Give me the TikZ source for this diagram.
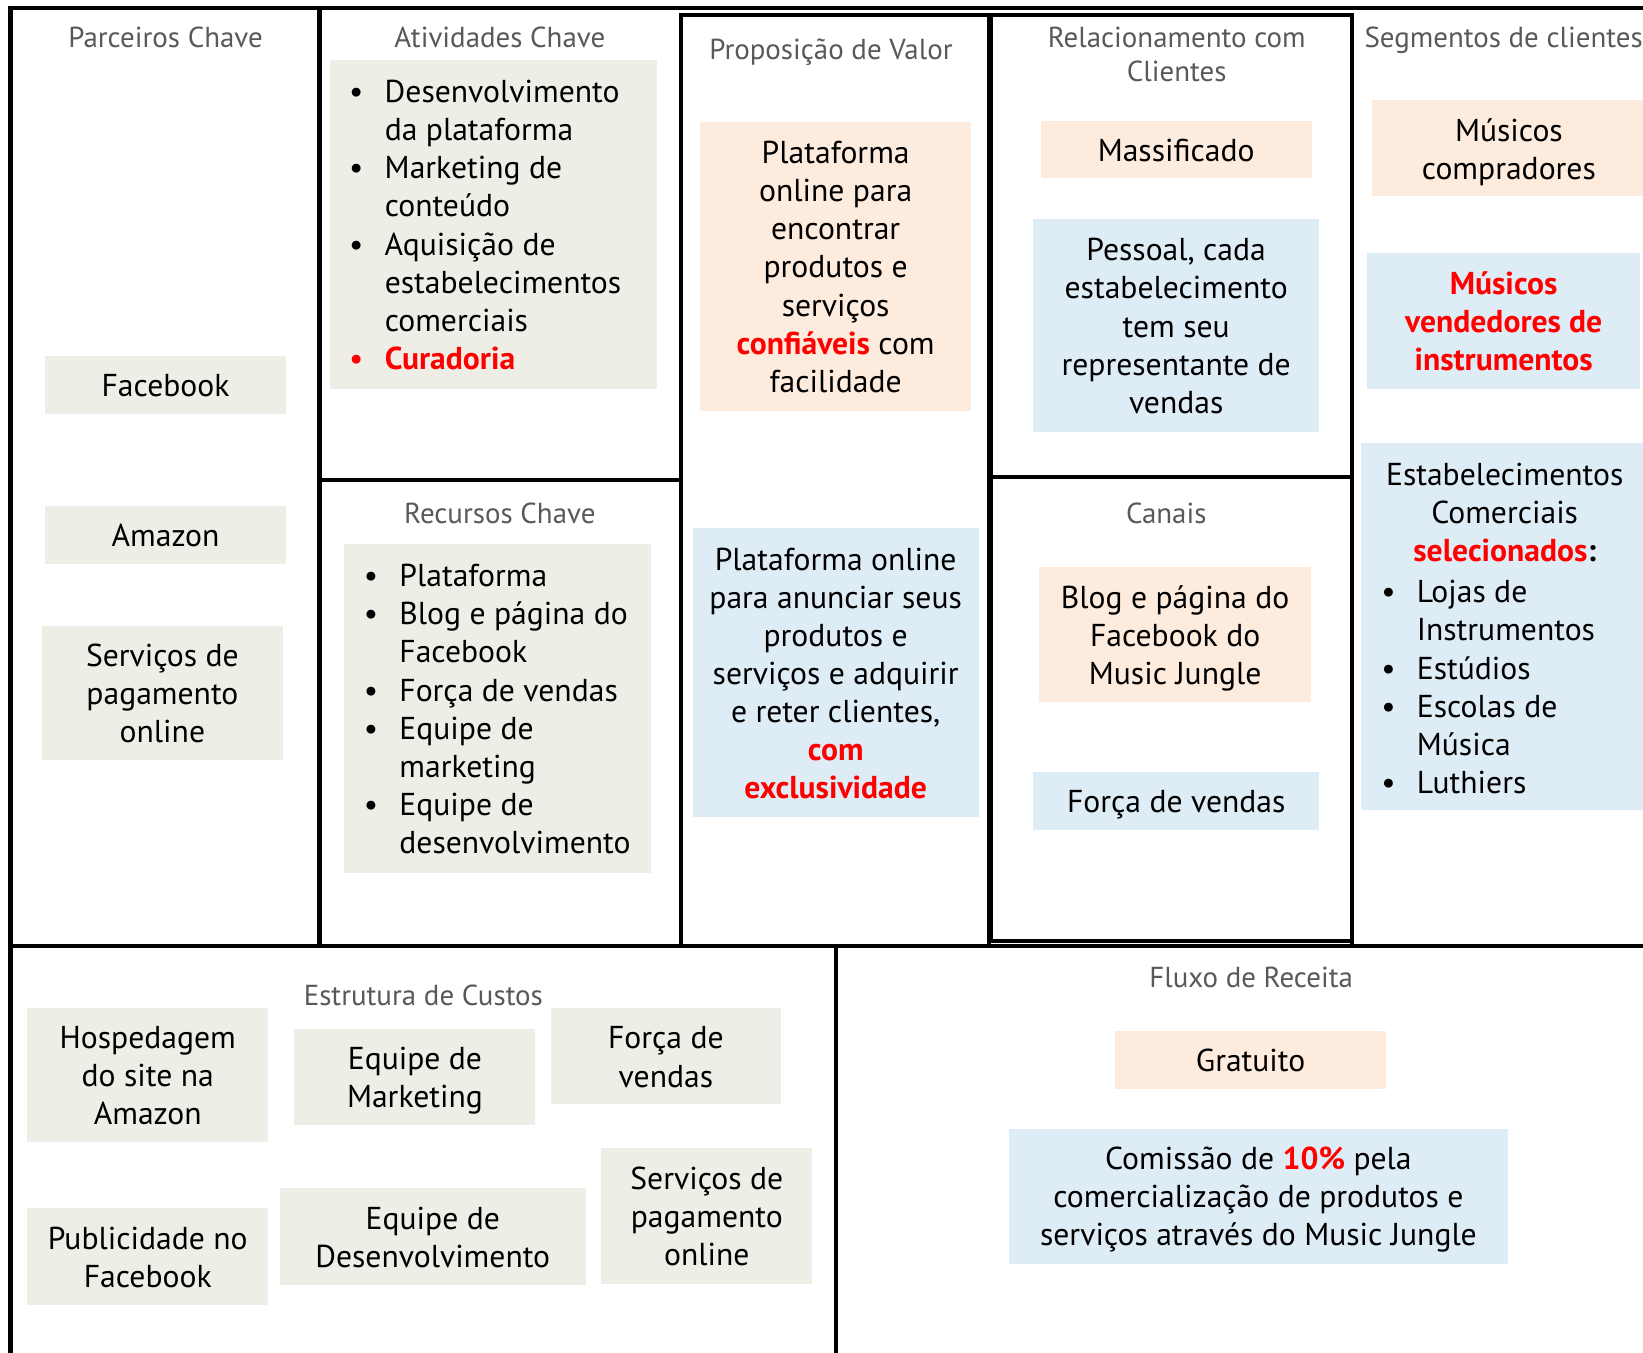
\documentclass[tikz,border=0pt]{standalone}
\usepackage{fontspec}
\setmainfont{PT Sans}
\definecolor{beige}{RGB}{239,238,230}
\definecolor{peach}{RGB}{253,235,222}
\definecolor{lblue}{RGB}{222,236,245}
\definecolor{titlegray}{RGB}{89,89,89}
\definecolor{rd}{RGB}{255,0,0}
\newcommand{\bodyfont}{\fontsize{30.2}{36.4}\selectfont\lineskiplimit=-100pt}
\newcommand{\titlefont}{\fontsize{27.6}{33}\selectfont\lineskiplimit=-100pt}
\newcommand{\st}{\rule[-7pt]{0pt}{36.4pt}}
\newcommand{\tst}{\rule[-6.5pt]{0pt}{33pt}}
\newcommand{\itm}{\makebox[34pt][l]{•}}
\newcommand{\ind}{\hspace*{34pt}}
\newcommand{\rb}[1]{\textbf{\color{rd}#1}}
\newcommand{\mkbox}[6]{\node[bx, fill=#6, minimum width={(#4)-(#2)}, minimum height={(#5)-(#3)}] (#1) at ({((#2)+(#4))/2},{((#3)+(#5))/2}) {};}
\begin{document}
\begin{tikzpicture}[x=1pt,y=-1pt,
  frame/.style={line width=4pt, draw=black},
  bx/.style={draw=none, inner sep=0pt, outer sep=0pt},
  txt/.style={inner sep=0pt, align=center, font=\bodyfont},
  lst/.style={inner sep=0pt, align=left, font=\bodyfont, anchor=west},
  ttl/.style={inner sep=0pt, align=center, text=titlegray, font=\titlefont}]
\useasboundingbox (0,0) rectangle (1568,1291);
\fill[white] (0,0) rectangle (1568,1291);

% ---------- frame ----------
\draw[frame] (10,1293) -- (10,8) -- (1570,8);
\draw[frame] (305,8) -- (305,903);
\draw[frame] (305,458) -- (650,458);
\draw[frame] (650,14) rectangle (944,903);
\draw[frame] (946,14) rectangle (1290,455);
\draw[frame] (946,455) rectangle (1290,898);
\draw[frame] (1290,898) -- (1290,903);
\draw[frame] (10,903) -- (1570,903);
\draw[frame] (798,903) -- (798,1293);

% ---------- Parceiros Chave ----------
\node[ttl] (tparc) at (158,35) {\tst Parceiros Chave};
\mkbox{bfb}{43}{340}{273}{395}{beige}
\node[txt] (tfb) at (bfb) {\st Facebook};
\mkbox{bamz}{43}{483}{273}{538}{beige}
\node[txt] (tamz) at (bamz) {\st Amazon};
\mkbox{bpag}{40}{597}{270}{725}{beige}
\node[txt] (tpag) at (bpag) {\st Serviços de\\\st pagamento\\\st online};

% ---------- Atividades Chave ----------
\node[ttl] (tativ) at (477,35) {\tst Atividades Chave};
\mkbox{bativ}{315}{57}{627}{371}{beige}
\node[lst] (lativ) at (333,214) {\st\itm Desenvolvimento\\\st\ind da plataforma\\\st\itm Marketing de\\\st\ind conteúdo\\\st\itm Aquisição de\\\st\ind estabelecimentos\\\st\ind comerciais\\\st{\color{rd}\itm\textbf{Curadoria}}};

% ---------- Recursos Chave ----------
\node[ttl] (trec) at (477,490) {\tst Recursos Chave};
\mkbox{brec}{328}{519}{621}{833}{beige}
\node[lst] (lrec) at (347,676) {\st\itm Plataforma\\\st\itm Blog e página do\\\st\ind Facebook\\\st\itm Força de vendas\\\st\itm Equipe de\\\st\ind marketing\\\st\itm Equipe de\\\st\ind desenvolvimento};

% ---------- Proposição de Valor ----------
\node[ttl] (tprop) at (793,47) {\tst Proposição de Valor};
\mkbox{bprop1}{668}{116}{927}{392}{peach}
\node[txt] (tprop1) at (bprop1) {\st Plataforma\\\st online para\\\st encontrar\\\st produtos e\\\st serviços\\\st\rb{confiáveis} com\\\st facilidade};
\mkbox{bprop2}{661}{504}{934}{780}{lblue}
\node[txt] (tprop2) at (bprop2) {\st Plataforma online\\\st para anunciar seus\\\st produtos e\\\st serviços e adquirir\\\st e reter clientes,\\\st\rb{com}\\\st\rb{exclusividade}};

% ---------- Relacionamento ----------
\node[ttl] (trel) at (1123,51.5) {\tst Relacionamento com\\\tst Clientes};
\mkbox{bmass}{993}{115}{1252}{170}{peach}
\node[txt] (tmass) at (bmass) {\st Massificado};
\mkbox{bpess}{986}{209}{1259}{412}{lblue}
\node[txt] (tpess) at (bpess) {\st Pessoal, cada\\\st estabelecimento\\\st tem seu\\\st representante de\\\st vendas};

% ---------- Canais ----------
\node[ttl] (tcan) at (1113,490) {\tst Canais};
\mkbox{bblog}{992}{541}{1251}{670}{peach}
\node[txt] (tblog) at (bblog) {\st Blog e página do\\\st Facebook do\\\st Music Jungle};
\mkbox{bforc}{986}{737}{1259}{792}{lblue}
\node[txt] (tforc) at (bforc) {\st Força de vendas};

% ---------- Segmentos ----------
\node[ttl] (tseg) at (1435,35) {\tst Segmentos de clientes};
\mkbox{bcomp}{1309}{95}{1568}{187}{peach}
\node[txt] (tcomp) at (1440,142) {\st Músicos\\\st compradores};
\mkbox{bvend}{1305}{241}{1565}{371}{lblue}
\node[txt] (tvend) at (bvend) {\st\rb{Músicos}\\\st\rb{vendedores de}\\\st\rb{instrumentos}};
\mkbox{bestab}{1299}{423}{1568}{773}{lblue}
\node[txt] (testab) at (1436,488.5) {\st Estabelecimentos\\\st Comerciais\\\st\rb{selecionados}\textbf{:}};
\node[lst] (lestab) at (1318,655) {\st\itm Lojas de\\\st\ind Instrumentos\\\st\itm Estúdios\\\st\itm Escolas de\\\st\ind Música\\\st\itm Luthiers};

% ---------- Estrutura de Custos ----------
\node[ttl] (tcust) at (404,950) {\tst Estrutura de Custos};
\mkbox{bhosp}{26}{962}{256}{1090}{beige}
\node[txt] (thosp) at (bhosp) {\st Hospedagem\\\st do site na\\\st Amazon};
\mkbox{bemkt}{281}{982}{511}{1074}{beige}
\node[txt] (temkt) at (bemkt) {\st Equipe de\\\st Marketing};
\mkbox{bfv}{526}{962}{745}{1054}{beige}
\node[txt] (tfv) at (bfv) {\st Força de\\\st vendas};
\mkbox{bpub}{26}{1153}{256}{1245}{beige}
\node[txt] (tpub) at (bpub) {\st Publicidade no\\\st Facebook};
\mkbox{bedev}{267}{1134}{559}{1226}{beige}
\node[txt] (tedev) at (bedev) {\st Equipe de\\\st Desenvolvimento};
\mkbox{bspag}{574}{1096}{775}{1225}{beige}
\node[txt] (tspag) at (bspag) {\st Serviços de\\\st pagamento\\\st online};

% ---------- Fluxo de Receita ----------
\node[ttl] (trec2) at (1194,932) {\tst Fluxo de Receita};
\mkbox{bgrat}{1064}{984}{1323}{1039}{peach}
\node[txt] (tgrat) at (bgrat) {\st Gratuito};
\mkbox{bcom}{963}{1077}{1439}{1206}{lblue}
\node[txt] (tcom) at (bcom) {\st Comissão de \rb{10\%} pela\\\st comercialização de produtos e\\\st serviços através do Music Jungle};
\end{tikzpicture}
\end{document}
